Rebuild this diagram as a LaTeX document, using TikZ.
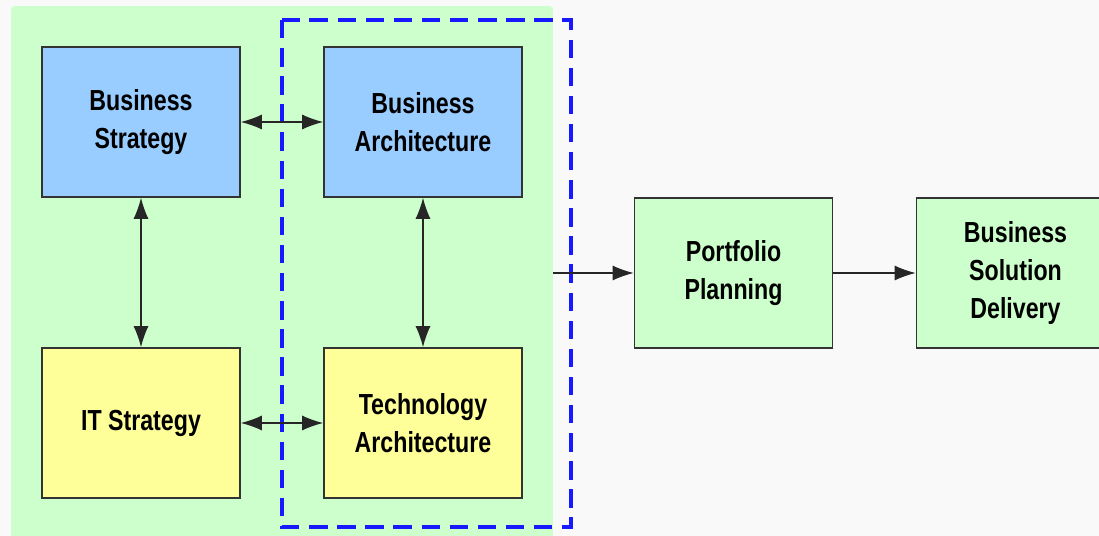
\documentclass[tikz,border=0pt]{standalone}
\usepackage{fontspec}
\setsansfont{Liberation Sans}[FakeStretch=0.8]
\usepackage{xcolor}
\definecolor{zone_green}{RGB}{204,255,204}
\definecolor{box_blue}{RGB}{153,204,255}
\definecolor{box_yellow}{RGB}{255,255,153}
\definecolor{frame_blue}{RGB}{25,25,255}
\definecolor{page_grey}{RGB}{249,249,249}
\usetikzlibrary{positioning}
\usetikzlibrary{arrows.meta}

\begin{document}
\begin{tikzpicture}[x=0.02cm,y=-0.02cm,
  block/.style={draw=black!80, line width=0.9pt, minimum width=3.96cm, minimum height=3cm,
    align=center, font=\sffamily\bfseries\fontsize{16.5}{21.5}\selectfont},
  zone/.style={fill=zone_green, rounded corners=2pt, minimum width=10.84cm, minimum height=10.78cm, inner sep=0pt},
  frame/.style={draw=frame_blue, line width=1.8pt, dash pattern=on 10.5pt off 5.5pt},
  link/.style={{Latex[length=4.2mm, width=3mm]}-{Latex[length=4.2mm, width=3mm]}, line width=0.8pt, black!85},
  flow/.style={-{Latex[length=4.2mm, width=3mm]}, line width=0.8pt, black!85}]
\fill[page_grey] (0,0) rectangle (1099,536);
\useasboundingbox (0,0) rectangle (1099,536);
% --- green area and dashed frame
\node[zone] (Enterprise) at (282,275.5) {};
\draw[frame] (282,20) rectangle (571,527);
% --- strategy and architecture
\node[block, fill=box_blue] (BStrat) at (141,122) {Business\\Strategy};
\node[block, fill=box_blue] (BArch) at (423,122) {Business\\Architecture};
\node[block, fill=box_yellow] (ITStrat) at (141,423) {IT Strategy};
\node[block, fill=box_yellow] (TArch) at (423,423) {Technology\\Architecture};
% --- downstream
\node[block, fill=zone_green] (Plan) at (733.5,273) {Portfolio\\Planning};
\node[block, fill=zone_green] (Deliver) at (1015.5,273) {Business\\Solution\\Delivery};
% --- links
\draw[link] (BStrat) -- (BArch);
\draw[link] (ITStrat) -- (TArch);
\draw[link] (BStrat) -- (ITStrat);
\draw[link] (BArch) -- (TArch);
\draw[flow] (Enterprise.east |- Plan.west) -- (Plan.west);
\draw[flow] (Plan) -- (Deliver);
\end{tikzpicture}
\end{document}
